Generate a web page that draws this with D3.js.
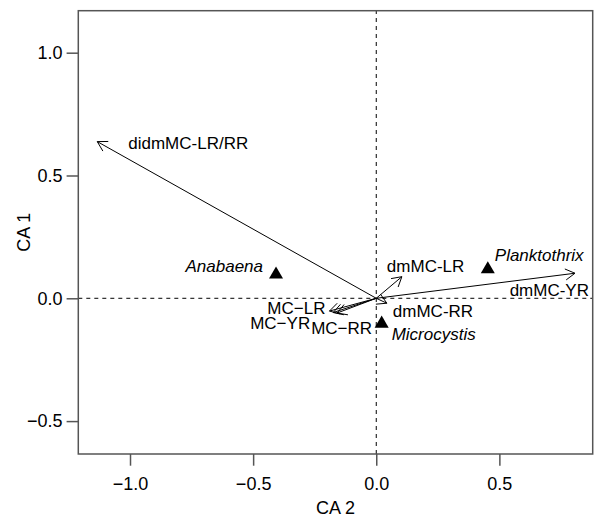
<!DOCTYPE html>
<html>
<head>
<meta charset="utf-8">
<script src="https://cdn.jsdelivr.net/npm/d3@7"></script>
<style>
  body { margin: 0; background: #fff; }
  svg { display: block; font-family: "Liberation Sans", Arial, sans-serif; }
  .tick-label { font-size: 18px; fill: #000; }
  .axis-title { font-size: 18px; fill: #000; }
  .lbl { font-size: 17px; fill: #000; }
  .sp { font-style: italic; }
</style>
</head>
<body>
<div id="chart"></div>
<script>
// CA biplot: toxin variables as arrows from the origin, genera as triangles.
const varNames = ["didmMC-LR/RR", "dmMC-YR", "dmMC-LR", "dmMC-RR", "MC\u2212LR", "MC\u2212YR", "MC\u2212RR"];
const varCA2 = [-1.133, 0.807, 0.104, 0.043, -0.190, -0.175, -0.159];
const varCA1 = [0.638, 0.102, 0.088, -0.020, -0.052, -0.058, -0.060];

const taxa = ["Anabaena", "Planktothrix", "Microcystis"];
const taxaCA2 = [-0.407, 0.453, 0.022];
const taxaCA1 = [0.097, 0.118, -0.103];

const xTicks = [-1.0, -0.5, 0.0, 0.5];
const yTicks = [-0.5, 0.0, 0.5, 1.0];

const W = 600, H = 519;
const m = { top: 10.7, right: 7.3, bottom: 65, left: 78.3 };

const x = d3.scaleLinear([-1.21, 0.879], [m.left, W - m.right]);
const y = d3.scaleLinear([-0.634, 1.171], [H - m.bottom, m.top]);

const svg = d3.select("#chart").append("svg").attr("width", W).attr("height", H);

// zero reference lines
svg.append("line").attr("x1", x.range()[0]).attr("x2", x.range()[1])
  .attr("y1", y(0)).attr("y2", y(0))
  .attr("stroke", "#000").attr("stroke-width", 1).attr("stroke-dasharray", "4 4");
svg.append("line").attr("x1", x(0)).attr("x2", x(0))
  .attr("y1", y.range()[0]).attr("y2", y.range()[1])
  .attr("stroke", "#000").attr("stroke-width", 1).attr("stroke-dasharray", "4 4");

// arrows
const head = 11, ang = Math.PI / 6;
const vars = varNames.map((n, i) => ({ name: n, cx: varCA2[i], cy: varCA1[i] }));
const ag = svg.append("g").attr("stroke", "#000").attr("stroke-width", 1).attr("fill", "none");
vars.forEach((d) => {
  const x0 = x(0), y0 = y(0), x1 = x(d.cx), y1 = y(d.cy);
  const th = Math.atan2(y1 - y0, x1 - x0);
  ag.append("line").attr("x1", x0).attr("y1", y0).attr("x2", x1).attr("y2", y1);
  const p1 = [x1 - head * Math.cos(th - ang), y1 - head * Math.sin(th - ang)];
  const p2 = [x1 - head * Math.cos(th + ang), y1 - head * Math.sin(th + ang)];
  ag.append("path").attr("d", `M${p1[0]},${p1[1]}L${x1},${y1}L${p2[0]},${p2[1]}`);
});

// label placement relative to each tip (px)
const varLbl = {
  "didmMC-LR/RR": [31, 1, "start"],
  "dmMC-YR": [14, 17, "end"],
  "dmMC-LR": [-15, -11, "start"],
  "dmMC-RR": [6, 8, "start"],
  "MC\u2212LR": [-4, -3, "end"],
  "MC\u2212YR": [-23, 11, "end"],
  "MC\u2212RR": [35, 15, "end"]
};
svg.append("g").selectAll("text").data(vars).join("text").attr("class", "lbl")
  .attr("x", (d) => x(d.cx) + varLbl[d.name][0])
  .attr("y", (d) => y(d.cy) + varLbl[d.name][1])
  .attr("dy", "0.35em").attr("text-anchor", (d) => varLbl[d.name][2])
  .text((d) => d.name);

// taxa triangles
const tax = taxa.map((n, i) => ({ name: n, cx: taxaCA2[i], cy: taxaCA1[i] }));
const tri = d3.symbol(d3.symbolTriangle, 85);
svg.append("g").selectAll("path").data(tax).join("path")
  .attr("d", tri).attr("fill", "#000")
  .attr("transform", (d) => `translate(${x(d.cx)},${y(d.cy)})`);
const taxLbl = {
  "Anabaena": [-13, -8, "end"],
  "Planktothrix": [7, -14, "start"],
  "Microcystis": [10, 10, "start"]
};
svg.append("g").selectAll("text").data(tax).join("text").attr("class", "lbl sp")
  .attr("x", (d) => x(d.cx) + taxLbl[d.name][0])
  .attr("y", (d) => y(d.cy) + taxLbl[d.name][1])
  .attr("dy", "0.35em").attr("text-anchor", (d) => taxLbl[d.name][2])
  .text((d) => d.name);

// box
svg.append("rect").attr("x", m.left).attr("y", m.top)
  .attr("width", W - m.right - m.left).attr("height", H - m.bottom - m.top)
  .attr("fill", "none").attr("stroke", "#555").attr("stroke-width", 1.5);

// axes
const fmt = (d) => d3.format(".1f")(d).replace("-", "\u2212");
const bx = svg.append("g").attr("transform", `translate(0,${H - m.bottom})`)
  .call(d3.axisBottom(x).tickValues(xTicks).tickSize(11.7).tickPadding(12).tickFormat(fmt));
const ly = svg.append("g").attr("transform", `translate(${m.left},0)`)
  .call(d3.axisLeft(y).tickValues(yTicks).tickSize(11.7).tickPadding(4).tickFormat(fmt));
[bx, ly].forEach((g) => {
  g.select(".domain").remove();
  g.selectAll(".tick line").attr("stroke", "#555").attr("stroke-width", 1.5);
  g.selectAll(".tick text").attr("class", "tick-label").attr("font-size", null).attr("font-family", null);
});
bx.attr("font-size", null).attr("font-family", null);
ly.attr("font-size", null).attr("font-family", null);

svg.append("text").attr("class", "axis-title").attr("text-anchor", "middle")
  .attr("x", (m.left + W - m.right) / 2).attr("y", 508).attr("dy", "0.35em").text("CA 2");
svg.append("text").attr("class", "axis-title").attr("text-anchor", "middle")
  .attr("transform", `translate(24,${(m.top + H - m.bottom) / 2}) rotate(-90)`)
  .attr("dy", "0.35em").text("CA 1");
</script>
</body>
</html>
